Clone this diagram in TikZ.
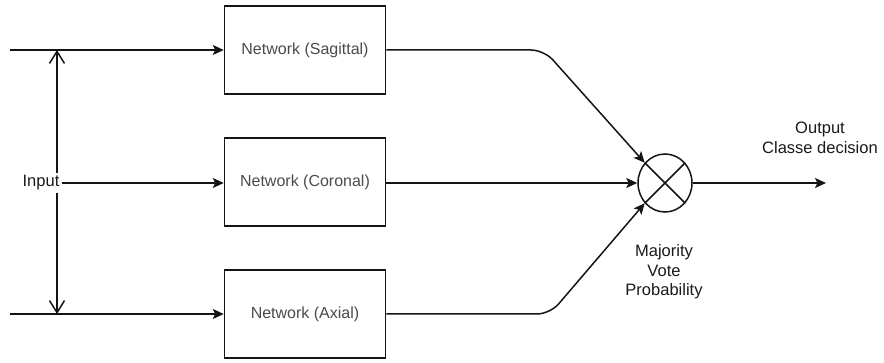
\documentclass[tikz,border=0pt]{standalone}
\usepackage{fontspec}
\setmainfont{Liberation Sans}
\usetikzlibrary{arrows.meta,shapes.geometric}
\definecolor{linecol}{RGB}{20,20,20}
\definecolor{boxtext}{RGB}{75,75,75}
\definecolor{labeltext}{RGB}{25,25,25}
\tikzset{
  netbox/.style={draw=linecol, line width=1.5pt, minimum width=161pt, minimum height=88pt,
    inner sep=0pt, text=boxtext, font=\fontsize{16}{19}\selectfont},
  lbl/.style={text=labeltext, font=\fontsize{16.5}{19.5}\selectfont, align=center, inner sep=2pt},
  conn/.style={draw=linecol, line width=1.5pt, -{Stealth[length=11pt,width=10pt,inset=2.5pt]}},
  feed/.style={draw=linecol, line width=1.5pt, -{Straight Barb[length=12pt,width=15pt,line width=1.5pt]}},
  voter/.style={draw=linecol, line width=1.5pt, ellipse, minimum width=54pt, minimum height=58pt, inner sep=0pt}
}
\begin{document}
\begin{tikzpicture}[x=1pt,y=-1pt]
\useasboundingbox (0,0) rectangle (884,363);

% network blocks
\node[netbox] (sag) at (305,50) {Network (Sagittal)};
\node[netbox] (cor) at (305,182) {Network (Coronal)};
\node[netbox] (axi) at (305,314) {Network (Axial)};

% voting node
\node[voter] (vote) at (665,183) {};
\draw[linecol, line width=1.5pt] (vote.45) -- (vote.225) (vote.135) -- (vote.315);

% labels
\node[lbl] (inp) at (41,183) {Input};
\node[lbl] (out) at (820,138) {Output\\Classe decision};
\node[lbl] (maj) at (664,272) {Majority\\Vote\\Probability};

% input feed lines
\coordinate (inA) at (10,50);
\coordinate (inC) at (10,314);
\coordinate (vtop) at (57,50);
\coordinate (vbot) at (57,314);
\draw[conn] (inA) -- (sag.west);
\draw[conn] (inC) -- (axi.west);
\draw[conn] (inp.east) -- (inp.east -| cor.west);
\draw[feed] (inp.north -| vtop) -- (vtop);
\draw[feed] (inp.south -| vbot) -- (vbot);

% network outputs to the vote
\coordinate (bendA) at (544,50);
\coordinate (bendC) at (550,314);
\draw[conn, rounded corners=13pt] (sag.east) -- (bendA) -- (vote.135);
\draw[conn] (cor.east |- vote.west) -- (vote.west);
\draw[conn, rounded corners=13pt] (axi.east) -- (bendC) -- (vote.225);

% decision output
\coordinate (outend) at (826,183);
\draw[conn] (vote.east) -- (outend);
\end{tikzpicture}
\end{document}
